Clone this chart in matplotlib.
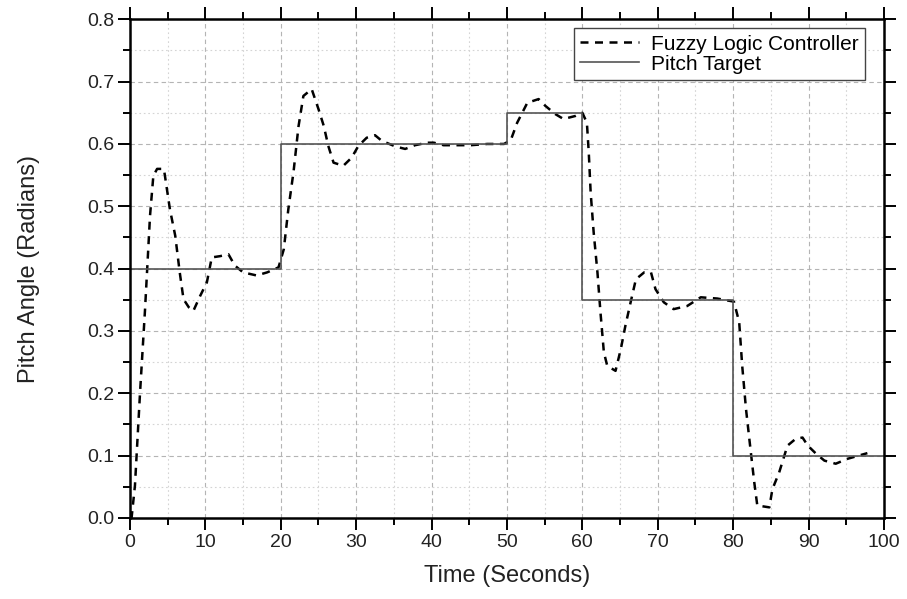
import numpy as np
import matplotlib.pyplot as plt
from matplotlib.ticker import MultipleLocator

plt.rcParams['font.family'] = ['Liberation Sans', 'DejaVu Sans']

# controller response (time in seconds, pitch in radians)
t_fuzzy = [0.0, 0.22, 0.66, 1.33, 2.0, 2.66, 3.1, 3.6, 4.5, 5.3, 6.0, 6.6, 7.1, 7.8, 8.4,
           9.3, 10.2, 10.85, 11.95, 13.06, 13.9, 15.0, 16.8, 18.2, 19.7, 20.4, 21.0,
           21.7, 22.35, 23.0, 24.1, 25.0, 25.7, 26.3, 27.0, 28.3, 29.4, 30.3, 31.4,
           32.5, 33.4, 35.2, 36.5, 37.8, 39.4, 40.3, 41.6, 43.4, 45.2, 47.4, 49.6,
           50.5, 51.35, 52.7, 54.2, 55.1, 56.4, 57.5, 59.1, 60.0, 60.6, 60.85, 61.1,
           61.5, 62.0, 62.4, 62.85, 63.3, 64.4, 65.1, 65.7, 66.4, 67.1, 68.2, 69.1,
           69.7, 70.8, 72.1, 73.9, 75.7, 77.9, 80.1, 80.8, 81.2, 81.7, 82.3, 82.8,
           83.2, 84.8, 85.2, 86.1, 87.2, 88.3, 89.2, 89.9, 91.0, 92.1, 93.6, 95.2,
           97.8]
v_fuzzy = [0.0, 0.001, 0.052, 0.20, 0.335, 0.485, 0.549, 0.56, 0.56, 0.495, 0.453, 0.394,
           0.351, 0.338, 0.332, 0.356, 0.378, 0.418, 0.42, 0.423, 0.405, 0.394, 0.389,
           0.394, 0.402, 0.431, 0.495, 0.556, 0.628, 0.677, 0.688, 0.656, 0.629, 0.597,
           0.57, 0.565, 0.578, 0.597, 0.61, 0.614, 0.605, 0.596, 0.592, 0.598, 0.602,
           0.602, 0.598, 0.598, 0.598, 0.60, 0.60, 0.606, 0.634, 0.666, 0.672, 0.661,
           0.648, 0.64, 0.645, 0.65, 0.634, 0.586, 0.522, 0.458, 0.394, 0.33, 0.266,
           0.244, 0.236, 0.271, 0.308, 0.346, 0.383, 0.394, 0.394, 0.367, 0.346, 0.335,
           0.34, 0.354, 0.352, 0.347, 0.314, 0.244, 0.175, 0.11, 0.057, 0.02, 0.017,
           0.046, 0.073, 0.116, 0.127, 0.129, 0.116, 0.103, 0.092, 0.087, 0.095, 0.104]

# reference setpoint steps
t_target = [0, 20, 50, 60, 80, 100]
v_target = [0.4, 0.6, 0.65, 0.35, 0.1, 0.1]

fig = plt.figure(figsize=(9.07, 5.99), dpi=100)
ax = fig.add_axes([0.1433, 0.1353, 0.8313, 0.8325])

ax.plot(t_fuzzy, v_fuzzy, color='black', linestyle=(0, (3.2, 2.6)), linewidth=1.8,
        label='Fuzzy Logic Controller')
ax.step(t_target, v_target, where='post', color='#555555', linewidth=1.2,
        label='Pitch Target')

ax.set_xlim(0, 100)
ax.set_ylim(0, 0.8)
ax.xaxis.set_major_locator(MultipleLocator(10))
ax.xaxis.set_minor_locator(MultipleLocator(5))
ax.yaxis.set_major_locator(MultipleLocator(0.1))
ax.yaxis.set_minor_locator(MultipleLocator(0.05))
ax.yaxis.set_major_formatter(plt.FormatStrFormatter('%.1f'))

ax.grid(which='major', color='#b4b4b4', linestyle=(0, (4, 3)), linewidth=0.8)
ax.grid(which='minor', color='#d4d4d4', linestyle=(0, (1.5, 2.5)), linewidth=0.8)
ax.set_axisbelow(True)

for s in ax.spines.values():
    s.set_linewidth(1.8)
ax.tick_params(which='both', direction='out', top=True, right=True, width=1.4,
               labelsize=14, colors='black', labelcolor='#222222')
ax.tick_params(which='major', length=8.5, pad=3)
ax.tick_params(which='minor', length=4.7)

ax.set_xlabel('Time (Seconds)', fontsize=17, labelpad=10, color='#222222')
ax.set_ylabel('Pitch Angle (Radians)', fontsize=17, labelpad=34, color='#222222')

leg = ax.legend(loc='upper right', bbox_to_anchor=(0.975, 0.982), fontsize=15,
                fancybox=False, framealpha=1, edgecolor='#444444', borderpad=0.3,
                labelspacing=0.05, handlelength=2.8, handletextpad=0.6,
                borderaxespad=0)
leg.get_frame().set_linewidth(1.0)

fig.savefig('out.png', dpi=100)
